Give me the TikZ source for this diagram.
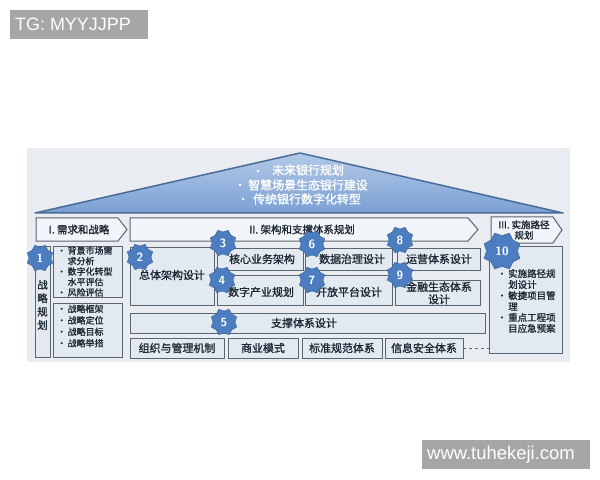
\documentclass[tikz,border=0pt]{standalone}
\usepackage{fontspec}
\setmainfont{Liberation Sans}
\newfontfamily\cjk[FakeBold=1.3]{Noto Sans CJK SC}
\usetikzlibrary{shapes.geometric}
\definecolor{panelbg}{HTML}{E9EDF2}
\definecolor{boxfill}{HTML}{E3E9F0}
\definecolor{boxline}{HTML}{5A6570}
\definecolor{chevfill}{HTML}{F1F4F8}
\definecolor{badge}{HTML}{4C7DC0}
\definecolor{rooftop}{HTML}{B3C9E8}
\definecolor{roofbot}{HTML}{7AA0D3}
\definecolor{roofline}{HTML}{4A6B98}
\definecolor{txt}{HTML}{1E2733}
\definecolor{wm}{HTML}{A6A6A6}
\begin{document}
\begin{tikzpicture}[x=1bp,y=-1bp,
 box/.style={draw=boxline, line width=1bp, fill=boxfill, inner sep=0},
 lbl/.style={font=\cjk\fontsize{11}{13}\selectfont, text=txt, inner sep=0, align=center},
 small/.style={font=\cjk\fontsize{9}{10.5}\selectfont, text=txt, inner sep=0, align=left, anchor=west},
 rooftxt/.style={font=\cjk\fontsize{12}{12}\selectfont, text=white, inner sep=0},
 bulletdot/.style={circle, fill=white, inner sep=0, minimum size=2.6bp},
 badgestar/.style={star, star points=8, star point ratio=0.8, fill=badge, draw=badge!75!black, line width=0.4bp, minimum size=22bp, inner sep=0, text=white, font=\sffamily\bfseries\fontsize{12}{12}\selectfont},
 chev/.style={draw=boxline, line width=1bp, fill=chevfill},
 wmbox/.style={fill=wm, inner sep=0, anchor=north west},
 wmtext/.style={text=white, inner sep=0, anchor=west}
]
\useasboundingbox (0,0) rectangle (600,480);
\fill[white] (0,0) rectangle (600,480);

% watermarks
\node[wmbox, minimum width=138bp, minimum height=29bp] (wm1) at (10,10) {};
\node[wmtext, font=\fontsize{18}{18}\selectfont] (wt1) at (15,24.5) {TG: MYYJJPP};
\node[wmbox, minimum width=168bp, minimum height=29bp] (wm2) at (422,440) {};
\node[wmtext, font=\fontsize{18.5}{18.5}\selectfont] (wt2) at (427,454.5) {www.tuhekeji.com};

% panel
\fill[panelbg] (27,148) rectangle (570,362);

% roof
\shade[top color=rooftop, bottom color=roofbot] (35,213) -- (300,153) -- (563,213) -- cycle;
\draw[roofline, line width=1.5bp, line join=round] (35,213) -- (300,153) -- (563,213) -- cycle;
\node[rooftxt] (r1) at (308,170) {未来银行规划};
\node[rooftxt] (r2) at (308,185) {智慧场景生态银行建设};
\node[rooftxt] (r3) at (307,199) {传统银行数字化转型};
\node[bulletdot] (b1) at (258,171) {};
\node[bulletdot] (b2) at (240,185) {};
\node[bulletdot] (b3) at (243,199) {};

% headers
\draw[chev] (36,218) -- (118,218) -- (127,229.5) -- (118,241) -- (36,241) -- cycle;
\node[lbl, font=\cjk\fontsize{10.5}{12}\selectfont] (h1) at (79,229.5) {I. 需求和战略};
\draw[chev] (130,218) -- (468,218) -- (478,229.5) -- (468,241) -- (130,241) -- cycle;
\node[lbl, font=\cjk\fontsize{10.5}{12}\selectfont] (h2) at (302,229.5) {II. 架构和支撑体系规划};
\draw[chev] (491,217) -- (553,217) -- (562,230) -- (553,243) -- (491,243) -- cycle;
\node[lbl, font=\cjk\fontsize{9.5}{10.5}\selectfont] (h3) at (524,230) {III. 实施路径\\规划};

% left column
\node[box, minimum width=15bp, minimum height=110bp] (col) at (42.5,302) {};
\node[lbl, font=\cjk\fontsize{10.5}{13.5}\selectfont] (colt) at (42.5,305) {战\\略\\规\\划};
\node[box, minimum width=69bp, minimum height=51bp] (ba) at (87.5,271.5) {};
\node[small] (bat) at (57,271.5) {•\,背景市场需\\\hphantom{•\,}求分析\\•\,数字化转型\\\hphantom{•\,}水平评估\\•\,风险评估};
\node[box, minimum width=69bp, minimum height=54bp] (bb) at (87.5,330) {};
\node[small, font=\cjk\fontsize{9}{11.5}\selectfont] (bbt) at (57,326) {•\,战略框架\\•\,战略定位\\•\,战略目标\\•\,战略举措};

% middle boxes
\node[box, minimum width=84bp, minimum height=58bp] (zt) at (172,276) {};
\node[lbl] (ztt) at (172,275) {总体架构设计};
\node[box, minimum width=86bp, minimum height=22bp] (hx) at (260,259) {};
\node[lbl] (hxt) at (262,259) {核心业务架构};
\node[box, minimum width=86bp, minimum height=30bp] (sz) at (260,290) {};
\node[lbl] (szt) at (261,292) {数字产业规划};
\node[box, minimum width=87bp, minimum height=22bp] (sj) at (348.5,259) {};
\node[lbl] (sjt) at (352,259) {数据治理设计};
\node[box, minimum width=87bp, minimum height=30bp] (kf) at (348.5,290) {};
\node[lbl] (kft) at (349,292) {开放平台设计};
\node[box, minimum width=83bp, minimum height=22bp] (yy) at (438.5,259) {};
\node[lbl] (yyt) at (439,259) {运营体系设计};
\node[box, minimum width=85bp, minimum height=25bp] (jr) at (437.5,292.5) {};
\node[lbl, font=\cjk\fontsize{11}{12.5}\selectfont] (jrt) at (439,293) {金融生态体系\\设计};
\node[box, minimum width=355bp, minimum height=20bp] (zc) at (307.5,323) {};
\node[lbl] (zct) at (304,323) {支撑体系设计};

% bottom row
\node[box, minimum width=94bp, minimum height=20bp] (zz) at (177,348) {};
\node[lbl] (zzt) at (177,348) {组织与管理机制};
\node[box, minimum width=70bp, minimum height=20bp] (sy) at (263,348) {};
\node[lbl] (syt) at (263,348) {商业模式};
\node[box, minimum width=80bp, minimum height=20bp] (bz) at (342,348) {};
\node[lbl] (bzt) at (342,348) {标准规范体系};
\node[box, minimum width=78bp, minimum height=20bp] (xx) at (424,348) {};
\node[lbl] (xxt) at (424,348) {信息安全体系};

% right box
\node[box, minimum width=73bp, minimum height=106bp] (rb) at (525.5,300) {};
\node[small, font=\cjk\fontsize{9.5}{11}\selectfont] (rbt) at (497,301) {•\,实施路径规\\\hphantom{•\,}划设计\\•\,敏捷项目管\\\hphantom{•\,}理\\•\,重点工程项\\\hphantom{•\,}目应急预案};

\draw[boxline, dashed, line width=1bp] (xx.east) -- (xx.east -| rb.west);

% badges
\node[badgestar] (n1) at (40,258) {1};
\node[badgestar] (n2) at (140,257) {2};
\node[badgestar] (n3) at (223,243) {3};
\node[badgestar] (n4) at (222,280) {4};
\node[badgestar] (n5) at (224,322) {5};
\node[badgestar] (n6) at (312,244) {6};
\node[badgestar] (n7) at (312,280) {7};
\node[badgestar] (n8) at (400,240) {8};
\node[badgestar] (n9) at (400,275) {9};
\node[badgestar, minimum size=31bp] (n10) at (502,251) {10};
\end{tikzpicture}
\end{document}
